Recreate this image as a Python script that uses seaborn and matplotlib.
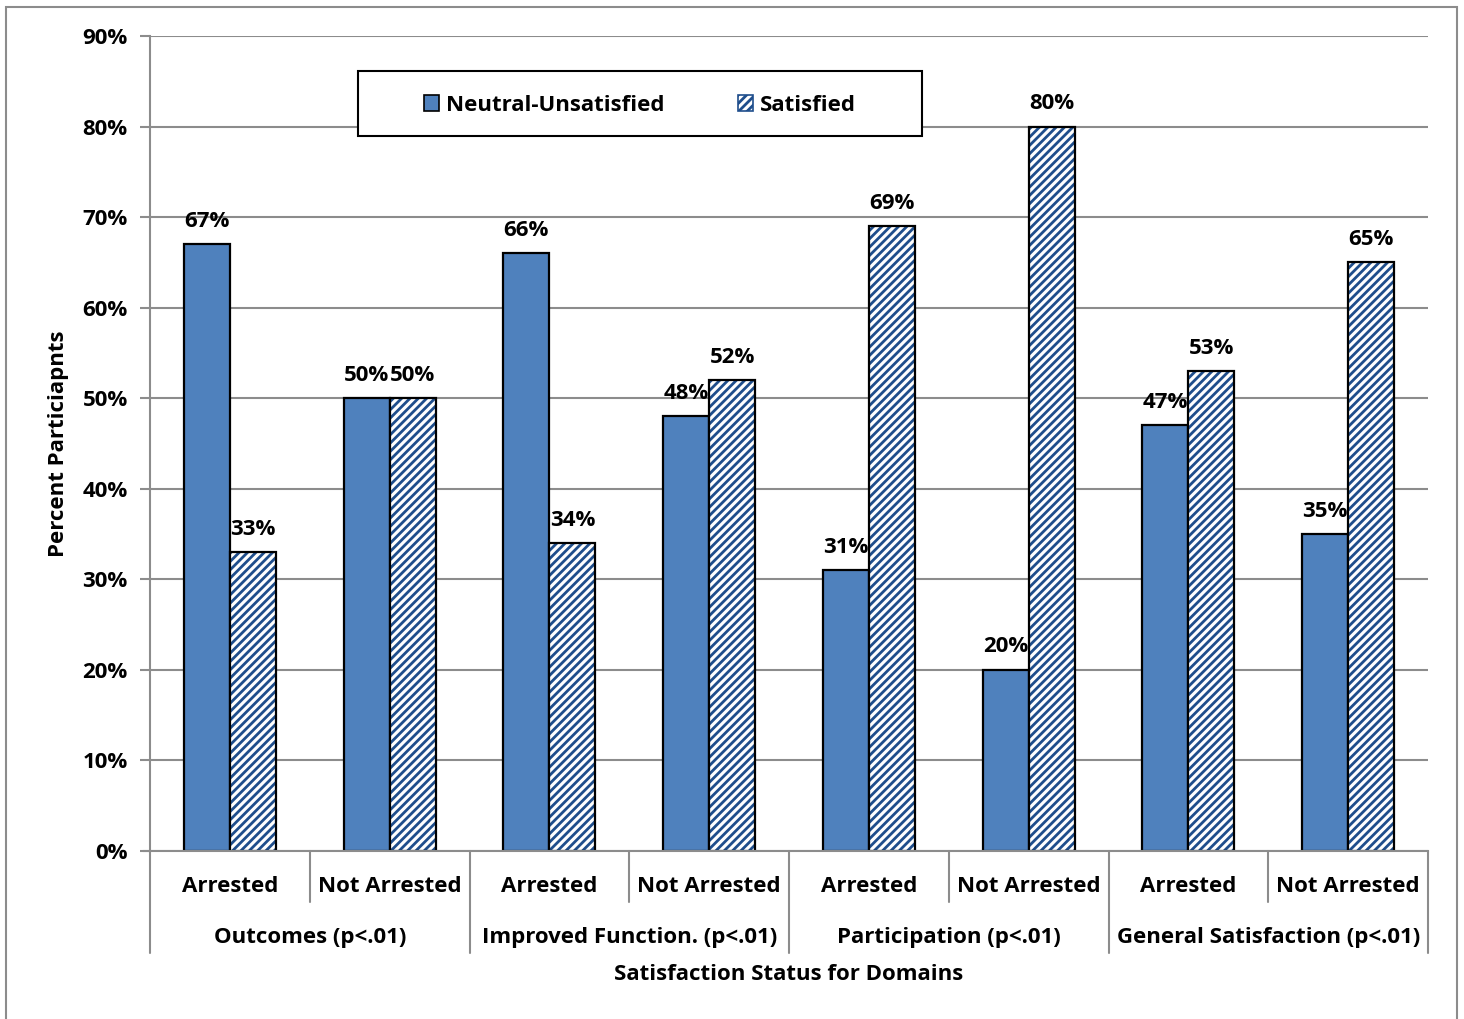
import matplotlib
matplotlib.use("Agg")
import matplotlib.pyplot as plt
import matplotlib.transforms as mtransforms
from matplotlib.patches import Patch, Rectangle
from matplotlib.lines import Line2D
import seaborn as sns
import pandas as pd

# ---- data -------------------------------------------------------------
domains = ["Outcomes (p<.01)", "Improved Function. (p<.01)",
           "Participation (p<.01)", "General Satisfaction (p<.01)"]
status = ["Arrested", "Not Arrested"]
series = ["Neutral-Unsatisfied", "Satisfied"]
neutral_unsatisfied = [67, 50, 66, 48, 31, 20, 47, 35]
satisfied = [33, 50, 34, 52, 69, 80, 53, 65]
y_ticks = [0, 10, 20, 30, 40, 50, 60, 70, 80, 90]

categories = [f"{d}|{s}" for d in domains for s in status]
df = pd.DataFrame({
    "category": categories * 2,
    "series": [series[0]] * len(categories) + [series[1]] * len(categories),
    "value": neutral_unsatisfied + satisfied,
})

# ---- style ------------------------------------------------------------
sns.set_theme(style="white")
plt.rcParams["font.family"] = ["Open Sans", "DejaVu Sans"]
plt.rcParams["font.weight"] = "bold"
plt.rcParams["hatch.linewidth"] = 2.0
for key in ("text.color", "axes.labelcolor", "xtick.labelcolor",
            "ytick.labelcolor"):
    plt.rcParams[key] = "black"

BLUE = "#4F81BD"
HATCH_BLUE = "#1F4E8C"
GREY = "#8C8C8C"
FS = 16

fig = plt.figure(figsize=(14.64, 10.19), dpi=100)
ax = fig.add_axes([150 / 1464, 168 / 1019, 1278 / 1464, 815 / 1019])

sns.barplot(data=df, x="category", y="value", hue="series", order=categories,
            hue_order=series, palette=[BLUE, "white"], width=0.576,
            edgecolor="black", linewidth=1.6, saturation=1, ax=ax,
            legend=False)

# Hatched fill for the "Satisfied" bars, with a black outline on top
n = len(categories)
bars_nu = ax.patches[:n]
bars_s = ax.patches[n:2 * n]
for p in bars_s:
    p.set_facecolor("white")
    p.set_hatch("////")
    p.set_edgecolor(HATCH_BLUE)
    p.set_linewidth(0)
    ax.add_patch(Rectangle(p.get_xy(), p.get_width(), p.get_height(),
                           fill=False, edgecolor="black", linewidth=1.6,
                           zorder=p.get_zorder() + 0.1))

# Value labels
for bars, vals in ((bars_nu, neutral_unsatisfied), (bars_s, satisfied)):
    for p, v in zip(bars, vals):
        ax.annotate(f"{v}%", (p.get_x() + p.get_width() / 2, v),
                    xytext=(0, 9), textcoords="offset points",
                    ha="center", va="bottom", fontsize=FS, fontweight="bold",
                    color="black")

# ---- axes -------------------------------------------------------------
ax.set_xlim(-0.5, n - 0.5)
ax.set_ylim(0, 90)
ax.set_yticks(y_ticks)
ax.set_yticklabels([f"{t}%" for t in y_ticks], fontsize=FS, fontweight="bold")
ax.tick_params(axis="y", length=7, width=1.5, color=GREY, pad=9, left=True,
               labelcolor="black")
ax.set_xticks([])
ax.set_xlabel("")
ax.set_ylabel("Percent Particiapnts", fontsize=FS, fontweight="bold",
              labelpad=10, color="black")
ax.yaxis.grid(True, color=GREY, linewidth=1.5)
ax.set_axisbelow(True)
for side in ("top", "right"):
    ax.spines[side].set_visible(False)
for side in ("left", "bottom"):
    ax.spines[side].set_color(GREY)
    ax.spines[side].set_linewidth(1.5)

# Multi-level category axis
trans = mtransforms.blended_transform_factory(ax.transData, ax.transAxes)
ax_h = 815.0
ax_w = 1278.0
for i, c in enumerate(categories):
    ax.text(i, -35 / ax_h, c.split("|")[1], transform=trans, ha="center",
            va="center", fontsize=FS, fontweight="bold", clip_on=False)
for g, d in enumerate(domains):
    ax.text(2 * g + 0.5, -86 / ax_h, d, transform=trans, ha="center",
            va="center", fontsize=FS, fontweight="bold", clip_on=False)
for k in range(n + 1):
    x = k - 0.5
    depth = -102 / ax_h if k % 2 == 0 else -51 / ax_h
    ax.add_line(Line2D([x, x], [0, depth], transform=trans, color=GREY,
                       linewidth=1.5, clip_on=False))
# Baseline extends slightly left like a tick
ax.add_line(Line2D([-7 / ax_w, 0], [0, 0], transform=ax.transAxes, color=GREY,
                   linewidth=1.5, clip_on=False))
ax.text(0.5, -123 / ax_h, "Satisfaction Status for Domains",
        transform=ax.transAxes, ha="center", va="center", fontsize=FS,
        fontweight="bold")

# Legend: framed box with the entries centred inside it
box_x0, box_y0, box_w, box_h = 208 / ax_w, 715 / ax_h, 564 / ax_w, 65 / ax_h
ax.add_patch(Rectangle((box_x0, box_y0), box_w, box_h, transform=ax.transAxes,
                       facecolor="white", edgecolor="black", linewidth=1.5,
                       zorder=4))
handles = [Patch(facecolor=BLUE, edgecolor="black", linewidth=1.2),
           Patch(facecolor="white", edgecolor=HATCH_BLUE, hatch="////",
                 linewidth=1.2)]
leg = ax.legend(handles, series, ncol=2, loc="center",
                bbox_to_anchor=(box_x0 + box_w / 2, box_y0 + box_h / 2 - 0.002),
                frameon=False, fontsize=FS, handlelength=0.7,
                handleheight=0.7, handletextpad=0.3, columnspacing=3.3,
                borderaxespad=0, borderpad=0)
leg.set_zorder(5)
for t in leg.get_texts():
    t.set_fontweight("bold")
    t.set_color("black")

# Figure border
fig.patches.append(Rectangle((6 / 1464, -0.01), 1451 / 1464, 1.0 - 7 / 1019 + 0.01,
                             transform=fig.transFigure, fill=False,
                             edgecolor=GREY, linewidth=1.5))

fig.savefig("out.png", dpi=100)
